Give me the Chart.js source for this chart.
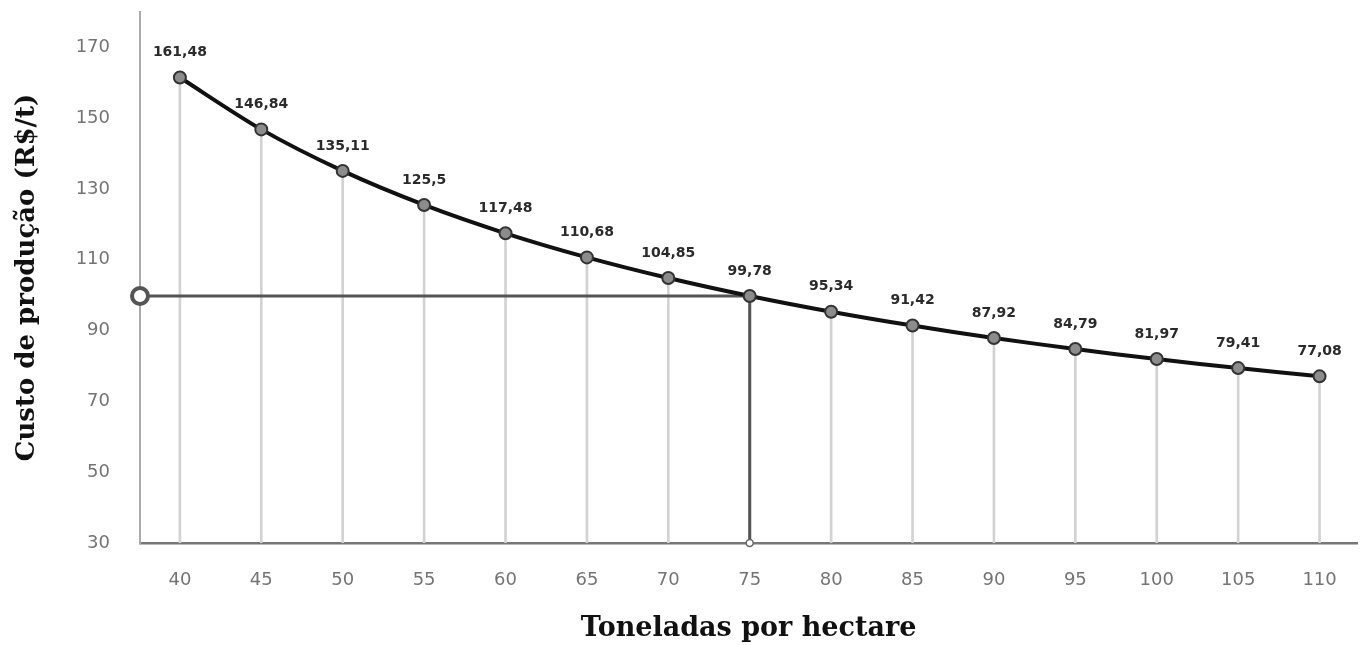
<!DOCTYPE html>
<html>
<head>
<meta charset="utf-8">
<script src="https://cdn.jsdelivr.net/npm/chart.js@4/dist/chart.umd.min.js"></script>
<style>
  html, body { margin: 0; padding: 0; background: #fff; }
  #wrap { width: 1369px; height: 645px; }
</style>
</head>
<body>
<div id="wrap"><canvas id="chart"></canvas></div>
<script>
// Data
var toneladas = [40, 45, 50, 55, 60, 65, 70, 75, 80, 85, 90, 95, 100, 105, 110];
var custo = [161.48, 146.84, 135.11, 125.5, 117.48, 110.68, 104.85, 99.78, 95.34, 91.42, 87.92, 84.79, 81.97, 79.41, 77.08];
var yTicks = [30, 50, 70, 90, 110, 130, 150, 170];
var refToneladas = 75;
var refCusto = 99.78;

var xMin = 37.55, xMax = 112.3;
var yMin = 30, yMax = 180;

function ptBr(v) {
    return String(v).replace('.', ',');
}

// Values written above each point
var pointLabels = {
    id: 'pointLabels',
    afterDatasetsDraw: function(chart) {
        var ctx = chart.ctx;
        var meta = chart.getDatasetMeta(0);
        ctx.save();
        ctx.font = 'bold 14px "DejaVu Sans", sans-serif';
        ctx.fillStyle = '#2a2a2a';
        ctx.textAlign = 'center';
        ctx.textBaseline = 'middle';
        meta.data.forEach(function(el, i) {
            ctx.fillText(ptBr(custo[i]), el.x, el.y - 25);
        });
        ctx.restore();
    }
};

// no extra room for end labels, so the plot area sits where the axes are
function noPad(axis) {
    axis.paddingTop = 0;
    axis.paddingBottom = 0;
    axis.paddingLeft = 0;
    axis.paddingRight = 0;
}

var chart = new Chart(document.getElementById('chart').getContext('2d'), {
    type: 'line',
    data: {
        datasets: [{
            // main curve
            type: 'line',
            data: toneladas.map(function(t, i) { return {x: t, y: custo[i]}; }),
            borderColor: '#111',
            borderWidth: 4,
            tension: 0.3,
            pointRadius: 6,
            pointBackgroundColor: '#8c8c8c',
            pointBorderColor: '#333',
            pointBorderWidth: 2,
            order: 0
        }, {
            // reference at 75 t/ha
            type: 'line',
            data: [{x: xMin, y: refCusto}, {x: refToneladas, y: refCusto}, {x: refToneladas, y: yMin}],
            borderColor: '#555',
            borderWidth: 3,
            tension: 0,
            pointRadius: [8, 0, 3.5],
            pointBorderWidth: [4, 0, 1.5],
            pointBorderColor: ['#555', '#555', '#666'],
            pointBackgroundColor: '#fff',
            clip: false,
            order: 1
        }, {
            // drop lines under each point
            type: 'bar',
            data: toneladas.map(function(t, i) { return {x: t, y: custo[i]}; }),
            backgroundColor: '#d2d2d2',
            barThickness: 2,
            order: 2
        }]
    },
    options: {
        responsive: true,
        maintainAspectRatio: false,
        animation: false,
        layout: { padding: { top: 10, right: 6, left: 0, bottom: 0 } },
        plugins: {
            legend: { display: false },
            tooltip: { enabled: false }
        },
        scales: {
            x: {
                type: 'linear',
                offset: false,
                min: xMin,
                max: xMax,
                afterBuildTicks: function(axis) {
                    axis.ticks = toneladas.map(function(v) { return {value: v}; });
                },
                afterFit: function(axis) { axis.height = 102; noPad(axis); },
                grid: { display: false },
                border: { display: true, color: '#777', width: 2.5 },
                ticks: {
                    padding: 19,
                    color: '#747474',
                    font: { family: '"DejaVu Sans", sans-serif', size: 18 },
                    maxRotation: 0
                },
                title: {
                    display: true,
                    text: 'Toneladas por hectare',
                    color: '#111',
                    font: { family: '"DejaVu Serif", serif', size: 27, weight: 'bold' },
                    padding: { top: 0, bottom: 0 }
                }
            },
            y: {
                min: yMin,
                max: yMax,
                afterBuildTicks: function(axis) {
                    axis.ticks = yTicks.map(function(v) { return {value: v}; });
                },
                afterFit: function(axis) { axis.width = 140; noPad(axis); },
                grid: { display: false },
                border: { display: true, color: '#aaa', width: 2 },
                ticks: {
                    padding: 22,
                    color: '#747474',
                    font: { family: '"DejaVu Sans", sans-serif', size: 18 }
                },
                title: {
                    display: true,
                    text: 'Custo de produção (R$/t)',
                    color: '#111',
                    font: { family: '"DejaVu Serif", serif', size: 26, weight: 'bold' },
                    padding: { top: 12, bottom: 0 }
                }
            }
        }
    },
    plugins: [pointLabels]
});
</script>
</body>
</html>
